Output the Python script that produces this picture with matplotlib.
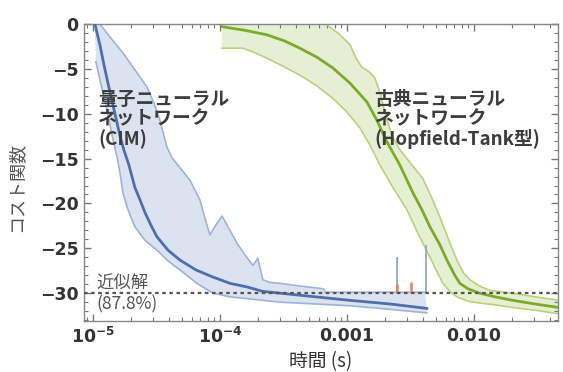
import numpy as np
import matplotlib
matplotlib.use("Agg")
import matplotlib.pyplot as plt
from matplotlib.ticker import LogLocator, NullFormatter, MultipleLocator

# ---------------- data ----------------
# Quantum NN (CIM) - blue
cim_mean_x = [1.037e-5, 1.135e-5, 1.22e-5, 1.31e-5, 1.41e-5, 1.52e-5, 1.63e-5, 1.75e-5,
              1.92e-5, 2.14e-5, 2.35e-5, 2.57e-5, 2.86e-5, 3.19e-5, 3.90e-5, 4.84e-5,
              6.47e-5, 8.81e-5, 1.20e-4, 1.63e-4, 2.18e-4, 2.97e-4, 5.60e-4, 1.06e-3,
              2.18e-3, 4.27e-3]
cim_mean_y = [0.0, -2.3, -4.5, -6.5, -8.5, -10.5, -12.4, -14.0,
              -15.7, -18.2, -19.6, -21.0, -22.4, -23.7, -25.2, -26.3,
              -27.4, -28.2, -28.9, -29.3, -29.8, -30.0, -30.4, -30.8,
              -31.2, -31.7]
cim_up_x = [1.135e-5, 1.39e-5, 1.72e-5, 2.14e-5, 2.66e-5, 3.02e-5, 3.37e-5, 3.62e-5,
            3.83e-5, 4.19e-5, 4.84e-5, 5.81e-5, 6.97e-5, 7.62e-5, 8.34e-5, 9.30e-5,
            1.04e-4, 1.20e-4, 1.36e-4, 1.57e-4, 1.82e-4, 1.99e-4, 2.18e-4, 2.48e-4,
            2.97e-4, 4.27e-4, 6.47e-4, 6.84e-4, 4.15e-3]
cim_up_y = [0.0, -1.6, -3.2, -5.1, -7.0, -8.8, -10.7, -12.4,
            -13.7, -14.9, -16.0, -17.4, -19.6, -21.6, -23.5, -22.4,
            -21.4, -23.0, -24.4, -25.7, -26.9, -26.1, -28.5, -28.8,
            -28.9, -29.2, -29.5, -29.9, -29.9]
cim_lo_x = [1.037e-5, 1.056e-5, 1.135e-5, 1.24e-5, 1.34e-5, 1.44e-5, 1.57e-5, 1.66e-5,
            1.72e-5, 1.89e-5, 2.14e-5, 2.57e-5, 3.19e-5, 3.90e-5, 4.84e-5, 6.59e-5,
            8.81e-5, 1.20e-4, 2.18e-4, 2.97e-4, 5.60e-4, 1.06e-3, 2.18e-3, 4.27e-3]
cim_lo_y = [0.0, -4.2, -6.2, -8.5, -10.7, -12.9, -15.2, -17.2,
            -18.8, -20.7, -22.6, -24.1, -25.2, -26.4, -27.4, -28.9,
            -30.0, -30.4, -30.8, -31.0, -31.2, -31.4, -31.8, -32.2]

# Classical NN (Hopfield-Tank) - green
hop_mean_x = [1.04e-4, 1.57e-4, 2.34e-4, 3.25e-4, 4.27e-4, 5.81e-4, 7.76e-4, 1.06e-3,
              1.44e-3, 1.72e-3, 2.06e-3, 2.61e-3, 3.31e-3, 3.90e-3, 4.51e-3, 5.40e-3,
              6.13e-3, 7.08e-3, 7.76e-3, 8.97e-3, 1.11e-2, 1.46e-2, 2.03e-2, 3.02e-2,
              4.7e-2]
hop_mean_y = [-0.3, -0.7, -1.2, -1.9, -2.7, -3.7, -4.9, -6.6,
              -8.7, -10.7, -13.1, -15.7, -18.8, -20.7, -22.6, -24.6,
              -26.3, -28.0, -28.9, -29.5, -30.0, -30.4, -30.8, -31.2,
              -31.6]
hop_up_x = [1.04e-4, 6.0e-4, 6.97e-4, 8.50e-4, 1.06e-3, 1.18e-3, 1.31e-3, 1.52e-3,
            1.66e-3, 1.82e-3, 1.99e-3, 2.26e-3, 2.61e-3, 3.13e-3, 3.96e-3, 4.67e-3,
            5.40e-3, 6.35e-3, 7.34e-3, 8.34e-3, 9.30e-3, 1.11e-2, 1.34e-2, 2.03e-2,
            3.02e-2, 4.7e-2]
hop_up_y = [0.3, 0.3, -0.1, -1.0, -2.3, -3.8, -4.8, -5.4,
            -6.0, -7.6, -9.8, -12.4, -14.0, -15.4, -17.2, -19.4,
            -21.5, -24.1, -26.3, -27.8, -28.5, -29.2, -29.7, -30.0,
            -30.4, -30.8]
hop_lo_x = [1.04e-4, 1.52e-4, 1.89e-4, 2.34e-4, 3.13e-4, 4.27e-4, 5.81e-4, 7.76e-4,
            1.0e-3, 1.27e-3, 1.52e-3, 1.82e-3, 2.30e-3, 2.97e-3, 3.62e-3, 4.51e-3,
            5.12e-3, 5.70e-3, 6.47e-3, 7.34e-3, 8.97e-3, 1.11e-2, 1.46e-2, 2.03e-2,
            3.02e-2, 4.7e-2]
hop_lo_y = [-2.7, -2.7, -3.2, -3.8, -4.7, -5.7, -6.9, -8.3,
            -9.8, -11.6, -13.5, -15.7, -18.2, -20.7, -23.3, -26.0,
            -27.6, -28.9, -29.8, -30.4, -30.9, -31.1, -31.3, -31.6,
            -31.9, -32.3]

# spikes (x, y_top)
blue_spikes_x = [2.48e-3, 4.18e-3]
blue_spikes_y = [-26.0, -24.6]
orange_spikes_x = [2.48e-3, 3.19e-3]
orange_spikes_y = [-29.0, -28.7]

approx_level = -30.0
yticks = [0, -5, -10, -15, -20, -25, -30]
xticks = [1e-5, 1e-4, 1e-3, 1e-2]
xticklabels = [r'$\mathbf{10^{-5}}$', r'$\mathbf{10^{-4}}$', '0.001', '0.010']

# ---------------- figure ----------------
plt.rcParams['font.family'] = ['DejaVu Sans']
plt.rcParams['mathtext.fontset'] = 'dejavusans'
fig = plt.figure(figsize=(5.63, 3.72), dpi=100)
ax = fig.add_axes([84/563, 1-321/372, (558-84)/563, (321-24)/372])
ax.set_xscale('log')
ax.set_xlim(10**-5.07, 0.046)
ax.set_ylim(-33.1, 0)

# blue band
bx = np.concatenate([cim_up_x, cim_lo_x[::-1]])
by = np.concatenate([cim_up_y, cim_lo_y[::-1]])
ax.fill(bx, by, color='#dbe3f1', lw=0, zorder=1)
ax.plot(cim_up_x, cim_up_y, color='#9fb2d8', lw=1.2, zorder=2)
ax.plot(cim_lo_x[1:], cim_lo_y[1:], color='#9fb2d8', lw=1.2, zorder=2)
ax.plot(cim_mean_x, cim_mean_y, color='#4d6fae', lw=2.0, zorder=3)

# green band
gx = np.concatenate([hop_up_x, hop_lo_x[::-1]])
gy = np.concatenate([hop_up_y, hop_lo_y[::-1]])
ax.fill(gx, gy, color='#e6eed3', lw=0, zorder=1)
ax.plot(hop_up_x, hop_up_y, color='#b9d27a', lw=1.2, zorder=2)
ax.plot(hop_lo_x, hop_lo_y, color='#b9d27a', lw=1.2, zorder=2)
ax.plot(hop_mean_x, hop_mean_y, color='#7aab2c', lw=2.0, zorder=3)

# spikes
ax.vlines(blue_spikes_x, approx_level, blue_spikes_y, color='#8fa6d3', lw=1.3, zorder=3)
ax.vlines(orange_spikes_x, approx_level, orange_spikes_y, color='#e8825a', lw=1.8, zorder=4)

# approx line
ax.axhline(approx_level, color='#555555', lw=1.6, ls=(0, (1.6, 1.6)), zorder=5)

# ticks
ax.set_yticks(yticks)
ax.set_yticklabels(['0'] + ['\u2212%d' % (-v) for v in yticks[1:]])
ax.yaxis.set_minor_locator(MultipleLocator(1))
ax.set_xticks(xticks)
ax.set_xticklabels(xticklabels)
ax.xaxis.set_minor_locator(LogLocator(base=10, subs=np.arange(2, 10)))
ax.xaxis.set_minor_formatter(NullFormatter())
ax.tick_params(which='both', direction='in', top=True, right=True, color='#777777')
ax.tick_params(which='major', length=5, width=1)
ax.tick_params(which='minor', length=3, width=0.8)
ax.tick_params(axis='both', labelsize=12.5, labelcolor='#333333', pad=4)
for lab in ax.get_xticklabels() + ax.get_yticklabels():
    lab.set_fontweight('bold')
for sp in ax.spines.values():
    sp.set_color('#888888')
    sp.set_linewidth(1.0)

jp = ['Noto Sans CJK JP', 'DejaVu Sans']
ax.set_ylabel('コスト関数', family=jp, fontsize=13, color='#555555')
ax.yaxis.set_label_coords(-0.125, 0.45)
ax.set_xlabel('時間 (s)', family=jp, fontsize=13.5, color='#333333', labelpad=3)

ax.text(1.1e-5, -7.3, '量子ニューラル\nネットワーク\n(CIM)', family=jp, fontsize=13.5,
        fontweight='bold', color='#3d3d3d', va='top', ha='left', linespacing=1.05, zorder=6)
ax.text(1.65e-3, -7.3, '古典ニューラル\nネットワーク\n(Hopfield-Tank型)', family=jp, fontsize=13.5,
        fontweight='bold', color='#3d3d3d', va='top', ha='left', linespacing=1.05, zorder=6)
ax.text(10**-4.97, -29.95, '近似解', family=jp, fontsize=12.5, color='#555555',
        va='bottom', ha='left', zorder=6)
ax.text(10**-4.97, -30.2, '(87.8%)', family=jp, fontsize=12.5, color='#555555',
        va='top', ha='left', zorder=6)

fig.savefig('out.png', dpi=100)
